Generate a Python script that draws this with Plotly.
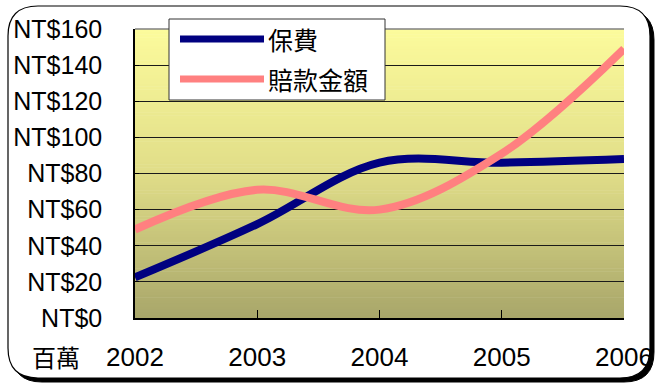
import plotly.graph_objects as go

# ---- data ----
years = [2002, 2003, 2004, 2005, 2006]
premium = [22.5, 52, 86, 86, 88]          # 保費
claims = [49, 71, 60, 91, 149]            # 賠款金額
y_ticks = [0, 20, 40, 60, 80, 100, 120, 140, 160]
y_labels = ["NT$" + str(v) for v in y_ticks]
x_ticks = [2002, 2003, 2004, 2005, 2006]
x_labels = [str(v) for v in x_ticks]
series_names = ["保費", "賠款金額"]
unit_label = "百萬"

W, H = 656, 383
L, R, T, B = 135, 624, 29, 318   # plot area in px

def px(x):
    return (x - L) / (R - L)

def py(y):
    return (B - y) / (B - T)

NAVY = "#000080"
PINK = "#FF8080"
FONT = "Liberation Sans, Arial, sans-serif"
CJK = "Noto Sans CJK TC, sans-serif"

fig = go.Figure()
fig.add_trace(go.Scatter(x=years, y=premium, name=series_names[0], mode="lines",
                         line=dict(color=NAVY, width=8, shape="spline", smoothing=1.0),
                         showlegend=False))
fig.add_trace(go.Scatter(x=years, y=claims, name=series_names[1], mode="lines",
                         line=dict(color=PINK, width=8, shape="spline", smoothing=1.0),
                         showlegend=False))

shapes = []

def rrect(x0, y0, x1, y1, r):
    return (f"M {px(x0+r)} {py(y0)} L {px(x1-r)} {py(y0)} "
            f"Q {px(x1)} {py(y0)} {px(x1)} {py(y0+r)} "
            f"L {px(x1)} {py(y1-r)} Q {px(x1)} {py(y1)} {px(x1-r)} {py(y1)} "
            f"L {px(x0+r)} {py(y1)} Q {px(x0)} {py(y1)} {px(x0)} {py(y1-r)} "
            f"L {px(x0)} {py(y0+r)} Q {px(x0)} {py(y0)} {px(x0+r)} {py(y0)} Z")

# frame shadow + frame
shapes.append(dict(type="path", xref="paper", yref="paper", layer="below",
                   path=rrect(12, 10, 654, 382, 30), fillcolor="black",
                   line=dict(color="black", width=1)))
shapes.append(dict(type="path", xref="paper", yref="paper", layer="below",
                   path=rrect(8, 6, 650, 378, 30), fillcolor="white",
                   line=dict(color="black", width=1.2)))

# gradient background of plot area (bands)
stops = [(0.0, (168, 166, 106)), (0.5, (224, 221, 136)), (1.0, (252, 251, 156))]

def col(t):
    for (t0, c0), (t1, c1) in zip(stops[:-1], stops[1:]):
        if t <= t1:
            f = (t - t0) / (t1 - t0)
            return "rgb(%d,%d,%d)" % tuple(round(a + (b - a) * f) for a, b in zip(c0, c1))
    return "rgb(%d,%d,%d)" % stops[-1][1]

N = 100
ymax = y_ticks[-1]
for i in range(N):
    y0 = ymax * i / N
    y1 = ymax * (i + 1) / N
    shapes.append(dict(type="rect", xref="x", yref="y", layer="below",
                       x0=x_ticks[0], x1=x_ticks[-1], y0=y0, y1=y1 + 0.3,
                       fillcolor=col((i + 0.5) / N), line=dict(width=0)))

# top border of plot area (gray)
shapes.append(dict(type="line", xref="paper", yref="paper", x0=0, x1=1, y0=1, y1=1,
                   line=dict(color="#808080", width=1.5)))

# legend box
lx0, ly0, lx1, ly1 = 169, 19, 385, 100
shapes.append(dict(type="rect", xref="paper", yref="paper",
                   x0=px(lx0), x1=px(lx1), y0=py(ly1), y1=py(ly0),
                   fillcolor="white", line=dict(color="#333333", width=1)))
for yy, c in [(39, NAVY), (79, PINK)]:
    shapes.append(dict(type="line", xref="paper", yref="paper",
                       x0=px(180), x1=px(264), y0=py(yy), y1=py(yy),
                       line=dict(color=c, width=7)))

annotations = []
for yy, name in [(39, series_names[0]), (79, series_names[1])]:
    annotations.append(dict(x=px(266), y=py(yy), xref="paper", yref="paper",
                            text=name, showarrow=False, xanchor="left", yanchor="middle",
                            font=dict(family=CJK, size=25, color="black")))
annotations.append(dict(x=px(30), y=py(356), xref="paper", yref="paper",
                        text=unit_label, showarrow=False, xanchor="left", yanchor="middle",
                        font=dict(family=CJK, size=24, color="black")))

fig.update_layout(
    width=W, height=H,
    margin=dict(l=L, r=W - R, t=T, b=H - B, pad=0),
    paper_bgcolor="white",
    plot_bgcolor="rgba(0,0,0,0)",
    shapes=shapes,
    annotations=annotations,
    showlegend=False,
    xaxis=dict(range=[x_ticks[0], x_ticks[-1]], tickvals=x_ticks, ticktext=x_labels,
               showgrid=False, zeroline=False, showline=True, linecolor="black", linewidth=1.5,
               ticks="inside", ticklen=8, tickcolor="black", tickwidth=1,
               tickfont=dict(family=FONT, size=26, color="black"),
               ticklabelstandoff=15, automargin=False),
    yaxis=dict(range=[0, ymax], tickvals=y_ticks, ticktext=y_labels,
               showgrid=True, gridcolor="#1a1a1a", gridwidth=1, zeroline=False,
               showline=True, linecolor="black", linewidth=1.5,
               ticks="inside", ticklen=4, tickcolor="black",
               tickfont=dict(family=FONT, size=25, color="black"),
               ticklabelstandoff=26, automargin=False),
)

fig.write_html("out.html")
